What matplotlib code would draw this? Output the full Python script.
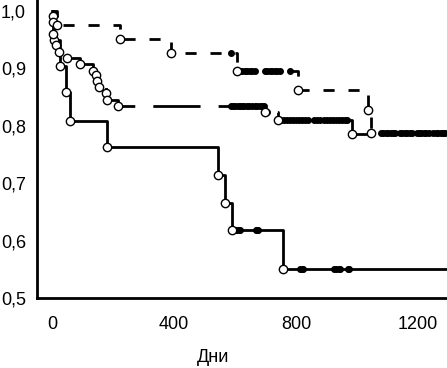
import numpy as np
import matplotlib
matplotlib.use("Agg")
from matplotlib import pyplot as plt

plt.rcParams['font.family'] = ['Liberation Sans', 'DejaVu Sans']

# --- data (days, survival after event) ---
solid_times = [0, 7, 24, 45, 59, 181, 545, 567, 589, 758]
solid_surv = [1.0, 0.950, 0.904, 0.858, 0.809, 0.763, 0.715, 0.666, 0.619, 0.550]
solid_censor = [600, 607, 612, 616, 668, 672, 676, 813, 818, 823, 925, 930, 940, 944, 970, 975]

mid_times = [0, 2, 3, 4, 11, 22, 49, 90, 135, 143, 146, 152, 177, 181, 217, 698, 741, 984]
mid_surv = [1.0, 0.992, 0.981, 0.959, 0.941, 0.929, 0.918, 0.907, 0.896, 0.889, 0.878,
            0.867, 0.857, 0.845, 0.835, 0.824, 0.810, 0.786]
mid_censor = [585, 592, 600, 608, 615, 622, 630, 638, 646, 655, 664, 672, 680, 688, 695, 703,
              750, 760, 770, 780, 790, 800, 810, 820, 830, 840, 860, 870, 880, 890, 900,
              910, 920, 930, 940, 950, 960, 968]

dash_times = [0, 17, 223, 390, 605, 805, 1036, 1046]
dash_surv = [1.0, 0.976, 0.951, 0.927, 0.896, 0.862, 0.827, 0.788]
dash_censor = [588, 616, 624, 632, 640, 648, 656, 664, 698, 706, 714, 722, 730, 738, 746, 780,
               1078, 1086, 1094, 1102, 1110, 1118, 1126, 1140, 1148, 1156, 1164, 1172, 1180,
               1195, 1203, 1211, 1219, 1227, 1235, 1250, 1258, 1266, 1274, 1282, 1290]

x_end = 1300
xticks = [0, 400, 800, 1200]
yticks = [0.5, 0.6, 0.7, 0.8, 0.9, 1.0]
ytick_labels = ['0,5', '0,6', '0,7', '0,8', '0,9', '1,0']


def surv_at(times, surv, t):
    idx = np.searchsorted(times, t, side='right') - 1
    return np.array(surv)[idx]


fig = plt.figure(figsize=(4.47, 3.68), dpi=100)
ax = fig.add_axes([37/447, 70/368, 410/447, 298/368])


def draw_curve(times, surv, censor, ls):
    t = list(times) + [x_end]
    s = list(surv) + [surv[-1]]
    ax.step(t, s, where='post', color='black', lw=2, linestyle=ls, zorder=2)
    ct = np.array(censor)
    ax.plot(ct, surv_at(times, surv, ct), 'o', color='black', ms=4, zorder=3)
    ax.plot(times[1:], surv[1:], 'o', mfc='white', mec='black', mew=1.0, ms=6, zorder=4)


draw_curve(solid_times, solid_surv, solid_censor, '-')
draw_curve(mid_times, mid_surv, mid_censor, (0, (17, 6.5)))
draw_curve(dash_times, dash_surv, dash_censor, (0, (4, 5)))

ax.set_xlim(-50, 1295)
ax.set_ylim(0.5, 1.019)
ax.set_xticks(xticks)
ax.set_yticks(yticks)
ax.set_yticklabels(ytick_labels)
ax.tick_params(axis='both', length=0, labelsize=13)
ax.tick_params(axis='y', pad=8)
ax.tick_params(axis='x', pad=13)

for side in ['top', 'right']:
    ax.spines[side].set_visible(False)
for side in ['left', 'bottom']:
    ax.spines[side].set_linewidth(2)

fig.text(213/447, 1 - 358/368, 'Дни', ha='center', va='center', fontsize=13)

plt.savefig('out.png', dpi=100)
